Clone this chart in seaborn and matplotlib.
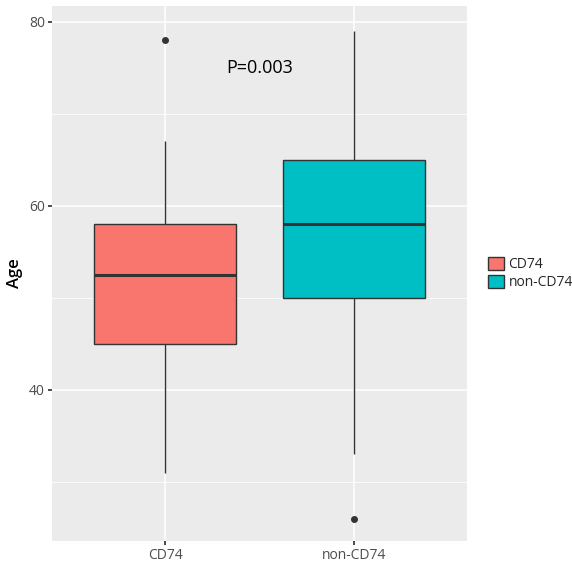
import matplotlib
matplotlib.use("Agg")

import matplotlib.pyplot as plt
import seaborn as sns
import pandas as pd
from matplotlib.ticker import MultipleLocator

sns.set_theme(style="darkgrid")
plt.rcParams["font.family"] = ["Open Sans", "DejaVu Sans"]

groups = ["CD74", "non-CD74"]
cd74_age = [31, 40, 45, 45, 48, 52, 53, 56, 58, 58, 67, 78]
non_cd74_age = [26, 33, 50, 50, 52, 56, 60, 62, 65, 65, 70, 79]
palette = {"CD74": "#F8766D", "non-CD74": "#00BFC4"}
p_label = "P=0.003"

df = pd.DataFrame({
    "Group": ["CD74"] * len(cd74_age) + ["non-CD74"] * len(non_cd74_age),
    "Age": cd74_age + non_cd74_age,
})

fig = plt.figure(figsize=(5.72, 5.63), dpi=100)
ax = fig.add_axes([0.0909, 0.0391, 0.7255, 0.9502])
ax.set_facecolor("#EBEBEB")

sns.boxplot(
    data=df, x="Group", y="Age", hue="Group", palette=palette, order=groups,
    width=0.75, linewidth=1.0, linecolor="#333333", saturation=1,
    showcaps=False,
    flierprops=dict(marker="o", markersize=4, markerfacecolor="#333333",
                    markeredgecolor="#333333"),
    medianprops=dict(linewidth=2.2, color="#333333"),
    legend=True, ax=ax, zorder=3,
)

ax.set_xlim(-0.6, 1.6)
ax.set_ylim(23.6, 81.7)
ax.yaxis.set_major_locator(MultipleLocator(20))
ax.yaxis.set_minor_locator(MultipleLocator(10))
ax.grid(which="major", color="white", linewidth=1.1)
ax.grid(which="minor", axis="y", color="white", linewidth=0.55)
ax.set_axisbelow(True)
for s in ax.spines.values():
    s.set_visible(False)

ax.tick_params(axis="both", which="major", length=3, color="#333333",
               labelsize=10, labelcolor="#4D4D4D", bottom=True, left=True, pad=2)
ax.tick_params(axis="y", which="minor", length=0)
ax.set_xlabel("")
ax.set_ylabel("Age", fontsize=12, color="black", fontweight="semibold")

ax.text(0.5, 75, p_label, fontsize=13, ha="center", va="center", color="black")

leg = ax.legend(loc="center left", bbox_to_anchor=(1.05, 0.5), frameon=False,
                title=None, fontsize=10, handlelength=1.2, handleheight=1.1,
                handletextpad=0.3, labelspacing=0.2, borderaxespad=0,
                borderpad=0)

fig.savefig("out.png", dpi=100)
